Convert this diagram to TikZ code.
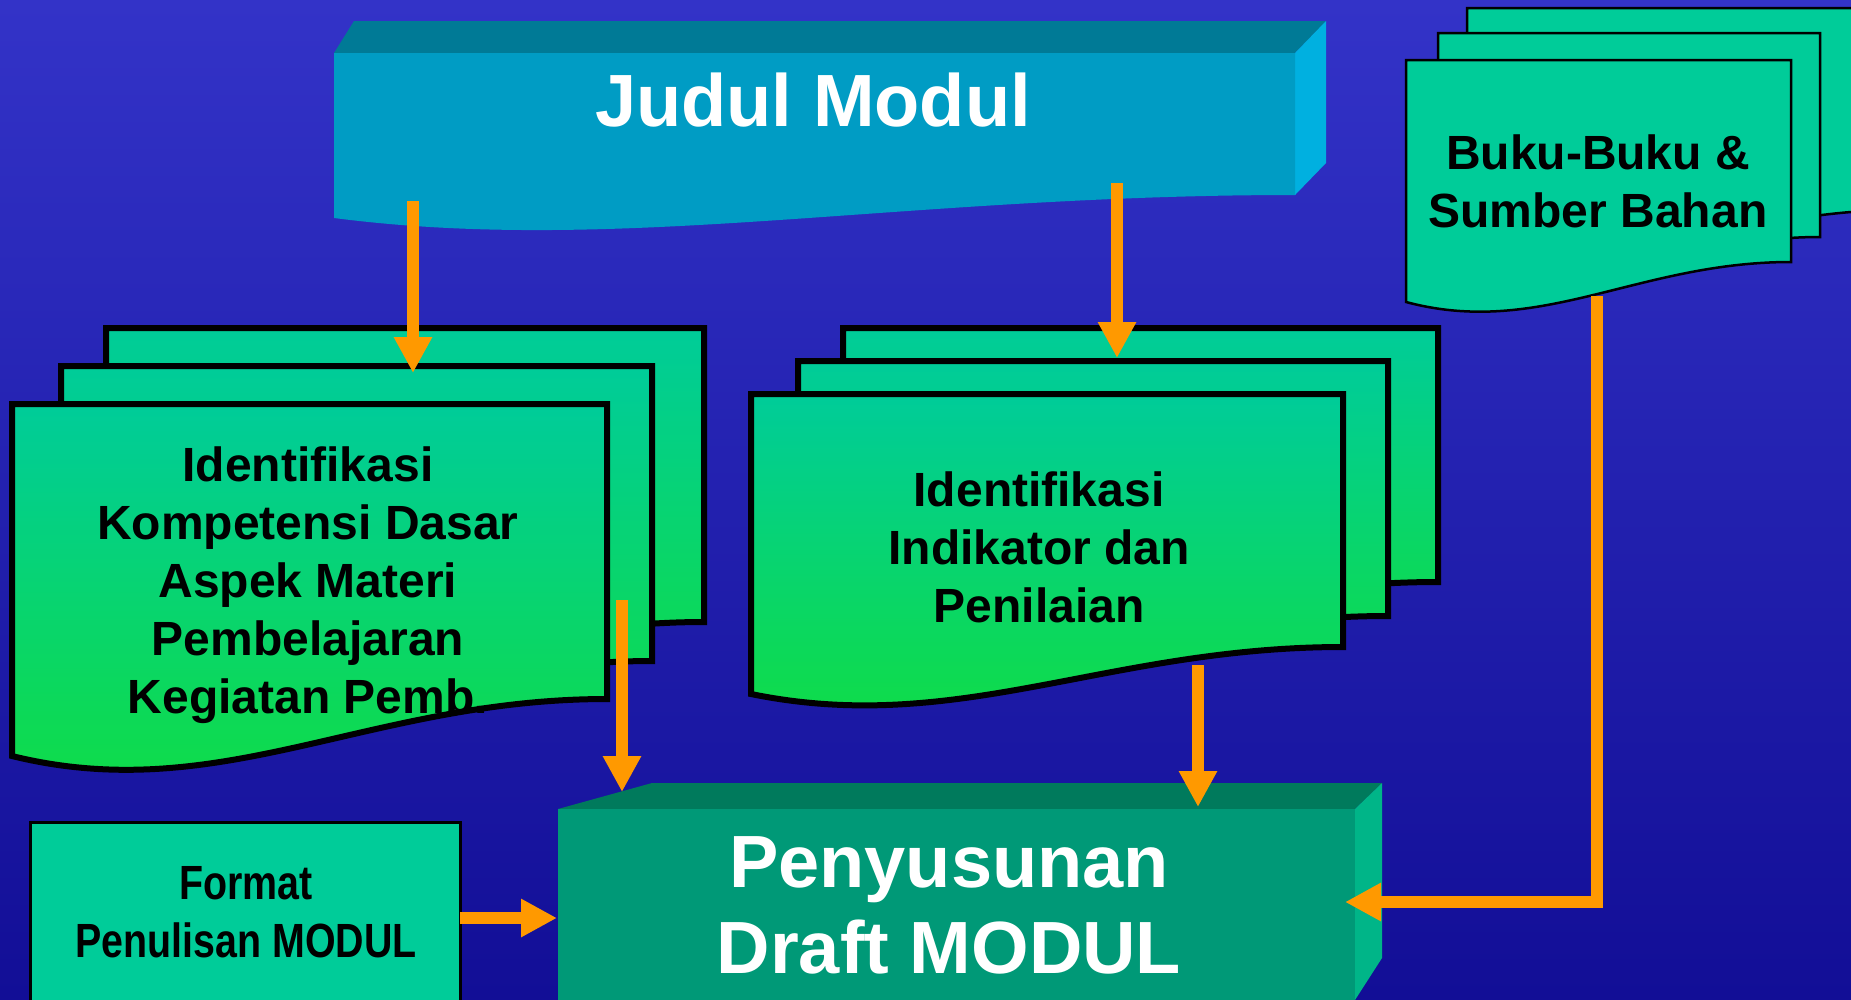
\documentclass[tikz,border=0pt]{standalone}
\usepackage{fontspec}
\setmainfont{Liberation Sans}
\newfontfamily\narrowfont[FakeStretch=0.82]{Liberation Sans}
\usetikzlibrary{arrows.meta}

\definecolor{bgtop}{RGB}{51,51,200}
\definecolor{bgbot}{RGB}{18,14,150}
\definecolor{judulfront}{RGB}{0,156,196}
\definecolor{judultop}{RGB}{0,122,150}
\definecolor{judulside}{RGB}{0,176,224}
\definecolor{draftfront}{RGB}{0,153,119}
\definecolor{drafttop}{RGB}{0,122,92}
\definecolor{draftside}{RGB}{0,181,136}
\definecolor{pagetop}{RGB}{0,204,153}
\definecolor{pagebot}{RGB}{16,221,68}
\definecolor{arroworange}{RGB}{255,153,0}

\tikzset{
  page/.style={draw=black, line width=6pt, top color=pagetop, bottom color=pagebot},
  thinpage/.style={draw=black, line width=2.5pt, fill=pagetop},
  flow/.style={draw=arroworange, line width=12pt, -{Triangle[length=36pt,width=36pt]}},
  whitetext/.style={text=white, font=\fontsize{74}{86}\selectfont\bfseries, align=center},
  blacktext/.style={text=black, font=\fontsize{48}{58}\selectfont\bfseries, align=center},
}

% style, left x, top y, right x, bottom y right, bottom y left
\newcommand{\docpage}[6]{\path[#1] (#2,#3) -- (#4,#3) -- (#4,#5)
  .. controls ({#4-0.4*(#4-#2)},#5) and ({#2+0.35*(#4-#2)},{#6+0.9*(#6-#5)}) .. (#2,#6) -- cycle;}

\begin{document}
\begin{tikzpicture}[x=1pt,y=-1pt]
  \clip (0,0) rectangle (1851,999);
  \shade[top color=bgtop, bottom color=bgbot] (0,0) rectangle (1851,999);

  % judul
  \fill[judultop] (334,53) -- (354,21) -- (1326,21) -- (1295,53) -- cycle;
  \fill[judulside] (1295,53) -- (1326,21) -- (1326,163) -- (1295,195) -- cycle;
  \fill[judulfront] (334,53) -- (1295,53) -- (1295,195)
    .. controls (900,195) and (620,255) .. (334,218) -- cycle;
  \node[whitetext] (judul) at (813,100) {Judul Modul};

  % stacks
  \docpage{page}{106}{328}{704}{622}{679}
  \docpage{page}{61}{366}{652}{661}{718}
  \docpage{page}{12}{404}{607}{699}{756}
  \node[blacktext] (kd) at (308,585)
    {Identifikasi\\Kompetensi Dasar\\Aspek Materi\\Pembelajaran\\Kegiatan Pemb.};

  \docpage{page}{843}{328}{1438}{582}{629}
  \docpage{page}{798}{361}{1388}{616}{663}
  \docpage{page}{751}{394}{1343}{647}{694}
  \node[blacktext] (indikator) at (1039,547) {Identifikasi\\Indikator dan\\Penilaian};

  \docpage{thinpage}{1467}{8}{1900}{210}{250}
  \docpage{thinpage}{1438}{33}{1820}{237}{277}
  \docpage{thinpage}{1406}{60}{1791}{262}{302}
  \node[blacktext] (buku) at (1598,181) {Buku-Buku \&\\Sumber Bahan};

  % draft
  \fill[drafttop] (558,809) -- (652,783) -- (1382,783) -- (1355,809) -- cycle;
  \fill[draftside] (1355,809) -- (1382,783) -- (1382,958) -- (1355,1000) -- cycle;
  \fill[draftfront] (558,809) rectangle (1355,1010);
  \node[whitetext] (draft) at (949,905) {Penyusunan\\Draft MODUL};

  \draw[thinpage, line width=3pt] (30,822) rectangle (460,1010);
  \node[blacktext, font=\fontsize{48}{58}\selectfont\narrowfont\bfseries] (format) at (246,912)
    {Format\\Penulisan MODUL};

  % arrows
  \coordinate (judulA) at (413,201);
  \coordinate (kdtop) at (413,373);
  \coordinate (judulB) at (1117,183);
  \coordinate (indtop) at (1117,358);
  \coordinate (kdout) at (622,600);
  \coordinate (draftA) at (622,792);
  \coordinate (indout) at (1198,665);
  \coordinate (draftB) at (1198,807);
  \coordinate (formatout) at (460,918);
  \coordinate (draftC) at (557,918);
  \coordinate (bukuout) at (1597,296);
  \coordinate (draftD) at (1345,902);
  \begin{scope}[flow]
    \draw (judulA) -- (kdtop);
    \draw (judulB) -- (indtop);
    \draw (kdout) -- (draftA);
    \draw (indout) -- (draftB);
    \draw (formatout) -- (draftC);
    \draw (bukuout) |- (draftD);
  \end{scope}
\end{tikzpicture}
\end{document}
